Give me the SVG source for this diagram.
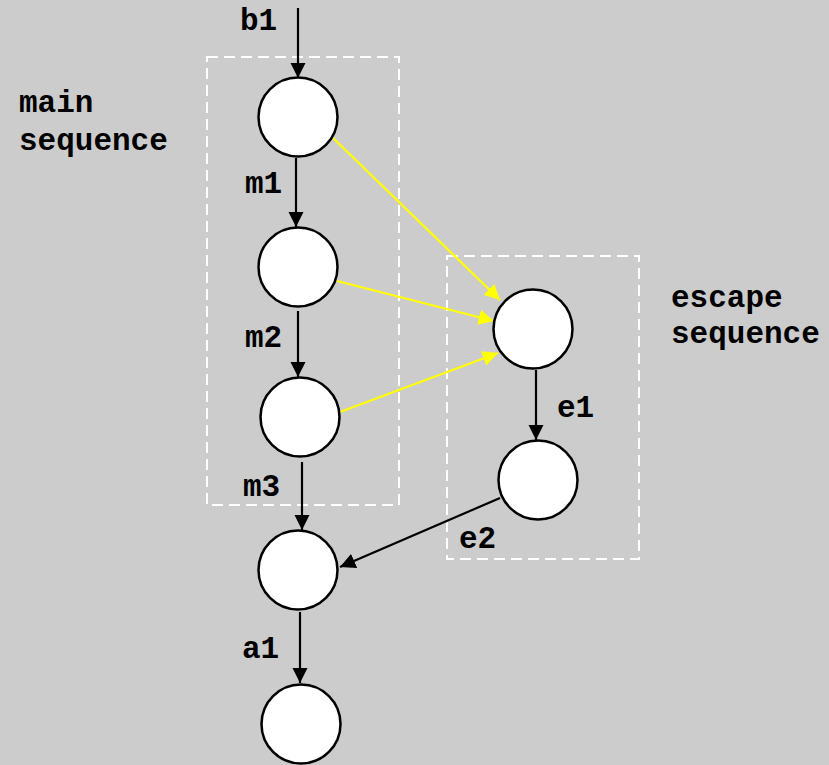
<svg xmlns="http://www.w3.org/2000/svg" width="829" height="765" viewBox="0 0 829 765">
  <style>
    .node { fill: #ffffff; stroke: #000000; stroke-width: 2.5; }
    .box { fill: none; stroke: #ffffff; stroke-width: 2; stroke-dasharray: 11 6; }
    .edge { fill: none; stroke: #000000; stroke-width: 2.2; }
    .esc { fill: none; stroke: #ffff00; stroke-width: 2.2; }
    .lbl { font-family: "Liberation Mono", "Courier New", monospace; font-weight: bold; font-size: 31px; fill: #000000; }
  </style>
  <defs>
    <marker id="arrow" viewBox="0 0 10 10" refX="10" refY="5" markerWidth="7" markerHeight="7" markerUnits="strokeWidth" orient="auto">
      <path d="M0,0 L10,5 L0,10 z" fill="#000000"/>
    </marker>
    <marker id="arrowY" viewBox="0 0 10 10" refX="10" refY="5" markerWidth="7" markerHeight="7" markerUnits="strokeWidth" orient="auto">
      <path d="M0,0 L10,5 L0,10 z" fill="#ffff00"/>
    </marker>
  </defs>

  <rect width="829" height="765" fill="#cccccc"/>

  <!-- sequence boundaries -->
  <g id="main-sequence">
    <rect class="box" x="207" y="57" width="192" height="448"/>
    <text class="lbl" x="19" y="112">main</text>
    <text class="lbl" x="19" y="150">sequence</text>
  </g>
  <g id="escape-sequence">
    <rect class="box" x="447" y="256" width="192" height="303"/>
    <text class="lbl" x="671" y="307">escape</text>
    <text class="lbl" x="671" y="343">sequence</text>
  </g>

  <!-- connectors -->
  <g id="connectors">
    <line class="edge" x1="298" y1="8" x2="298" y2="78" marker-end="url(#arrow)"/>
    <line class="edge" x1="296" y1="158" x2="296" y2="227" marker-end="url(#arrow)"/>
    <line class="edge" x1="298" y1="311" x2="298" y2="377" marker-end="url(#arrow)"/>
    <line class="edge" x1="302" y1="462" x2="302" y2="530" marker-end="url(#arrow)"/>
    <line class="edge" x1="300" y1="612" x2="300" y2="683" marker-end="url(#arrow)"/>
    <line class="edge" x1="536" y1="370" x2="536" y2="440" marker-end="url(#arrow)"/>
    <line class="edge" x1="500" y1="498" x2="340" y2="567" marker-end="url(#arrow)"/>
    <line class="esc" x1="333" y1="138" x2="500" y2="300" marker-end="url(#arrowY)"/>
    <line class="esc" x1="337" y1="281" x2="494" y2="321" marker-end="url(#arrowY)"/>
    <line class="esc" x1="340" y1="412" x2="498" y2="353" marker-end="url(#arrowY)"/>
    <text class="lbl" x="240" y="30">b1</text>
    <text class="lbl" x="245" y="193">m1</text>
    <text class="lbl" x="245" y="347">m2</text>
    <text class="lbl" x="243" y="496">m3</text>
    <text class="lbl" x="242" y="658">a1</text>
    <text class="lbl" x="557" y="417">e1</text>
    <text class="lbl" x="459" y="548">e2</text>
  </g>

  <!-- states -->
  <g id="m0"><circle class="node" cx="298" cy="117" r="39.5"/></g>
  <g id="m1-target"><circle class="node" cx="298" cy="267" r="39.5"/></g>
  <g id="m2-target"><circle class="node" cx="300" cy="417" r="39.5"/></g>
  <g id="join"><circle class="node" cx="298" cy="570" r="39.5"/></g>
  <g id="after"><circle class="node" cx="301" cy="724" r="39.5"/></g>
  <g id="e0"><circle class="node" cx="533" cy="329" r="39.5"/></g>
  <g id="e1-target"><circle class="node" cx="538" cy="480" r="39.5"/></g>
</svg>
